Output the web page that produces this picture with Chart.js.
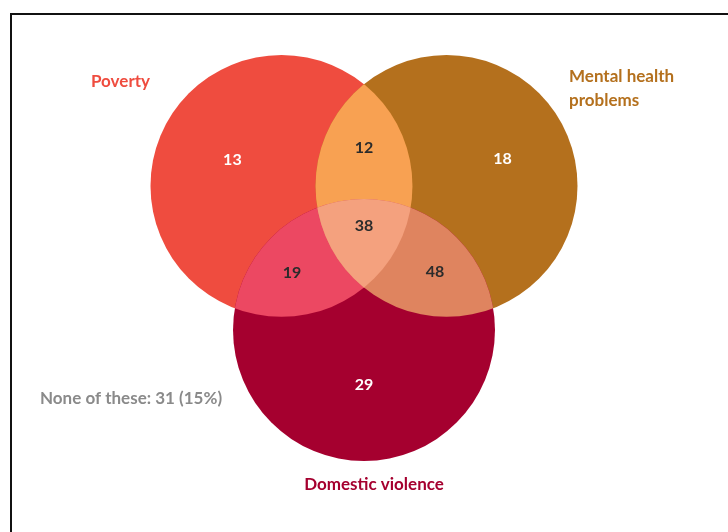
<!DOCTYPE html>
<html>
<head>
<meta charset="utf-8">
<script src="https://cdn.jsdelivr.net/npm/chart.js@4.4.0/dist/chart.umd.min.js"></script>
<style>
  html, body { margin: 0; padding: 0; background: #fff; overflow: hidden; }
  #wrap { position: relative; width: 728px; height: 532px; }
  #frame { position: absolute; left: 10px; top: 13px; width: 800px; height: 600px; border: 2px solid #111; }
  #venn { position: absolute; left: 0; top: 0; }
</style>
</head>
<body>
<div id="wrap">
  <div id="frame"></div>
  <canvas id="venn" width="728" height="532"></canvas>
</div>
<script>
// three sets, circle centres and radii in "radius units"
const setNames = ['Poverty', 'Mental health problems', 'Domestic violence'];
const setColors = ['#ef4c3f', '#b4701d', '#a5002f'];
const circleX = [-0.63, 0.63, 0];
const circleY = [1.1, 1.1, 0];
const circleR = [1, 1, 1];

// regions by membership mask: 1 = poverty, 2 = mental health, 4 = domestic violence
const regionMasks = [1, 2, 4, 3, 5, 6, 7];
const regionValues = [13, 18, 29, 12, 19, 48, 38];
const overlapColors = { 3: '#f8a152', 5: '#ec4862', 6: '#df845f', 7: '#f4a17e' };

const noneLabel = 'None of these: 31 (15%)';

const FONT = 'Lato, "Open Sans", sans-serif';

// small nudges (px) of the number labels away from the region centres
const labelNudge = { 1: [-10, -4], 2: [17, -5], 4: [0, 10], 3: [0, -7], 5: [-4, -1], 6: [3, -2], 7: [0, -8] };

// pixels per data unit, from the x scale
const unitPx = (chart) => {
    const s = chart.scales.x;
    return Math.abs(s.getPixelForValue(1) - s.getPixelForValue(0));
};

const vennPlugin = {
    id: 'venn',
    afterDatasetsDraw(chart) {
        const ctx = chart.ctx;
        const meta = chart.getDatasetMeta(0);
        const circles = meta.data.map(el => ({ x: el.x, y: el.y, r: el.options.radius }));
        const area = chart.chartArea;

        // overlaps: pairs first, then the middle
        [3, 5, 6, 7].forEach(mask => {
            ctx.save();
            circles.forEach((c, i) => {
                if (mask & (1 << i)) {
                    ctx.beginPath();
                    ctx.arc(c.x, c.y, c.r, 0, Math.PI * 2);
                    ctx.clip();
                }
            });
            ctx.fillStyle = overlapColors[mask];
            ctx.fillRect(area.left, area.top, area.right - area.left, area.bottom - area.top);
            ctx.restore();
        });

        // centre of each region, found by sampling
        const sums = {};
        for (let y = area.top; y < area.bottom; y += 2) {
            for (let x = area.left; x < area.right; x += 2) {
                let m = 0;
                circles.forEach((c, i) => {
                    if ((x - c.x) ** 2 + (y - c.y) ** 2 <= c.r * c.r) m |= (1 << i);
                });
                if (!m) continue;
                if (!sums[m]) sums[m] = { x: 0, y: 0, n: 0 };
                sums[m].x += x; sums[m].y += y; sums[m].n++;
            }
        }

        ctx.save();
        ctx.textAlign = 'center';
        ctx.textBaseline = 'middle';
        ctx.font = 'bold 16px ' + FONT;
        regionMasks.forEach((mask, i) => {
            const s = sums[mask];
            if (!s) return;
            const single = mask === 1 || mask === 2 || mask === 4;
            const [dx, dy] = labelNudge[mask];
            ctx.fillStyle = single ? '#ffffff' : '#2b2b2b';
            ctx.fillText(String(regionValues[i]), s.x / s.n + dx, s.y / s.n + dy);
        });

        // set names
        ctx.font = 'bold 17px ' + FONT;
        ctx.textAlign = 'left';
        ctx.fillStyle = setColors[0];
        ctx.fillText(setNames[0], 91, 82);
        ctx.fillStyle = setColors[1];
        ctx.fillText('Mental health', 569, 77);
        ctx.fillText('problems', 569, 101);
        ctx.fillStyle = setColors[2];
        ctx.textAlign = 'center';
        ctx.fillText(setNames[2], 374, 485);
        ctx.textAlign = 'left';
        ctx.fillStyle = '#8a8a8a';
        ctx.fillText(noneLabel, 40, 399);
        ctx.restore();
    }
};

const chart = new Chart(document.getElementById('venn'), {
    type: 'bubble',
    data: {
        labels: setNames,
        datasets: [{
            data: circleX.map((x, i) => ({ x: x, y: circleY[i], r: 0 })),
            backgroundColor: setColors,
            borderWidth: 0,
            hoverRadius: 0
        }]
    },
    options: {
        responsive: false,
        animation: false,
        events: [],
        layout: { padding: 0, autoPadding: false },
        plugins: { legend: { display: false }, tooltip: { enabled: false } },
        scales: {
            x: { type: 'linear', display: false, min: -2.779, max: 2.779 },
            y: { type: 'linear', display: false, min: -1.542, max: 2.519 }
        }
    },
    plugins: [vennPlugin]
});

// bubble r is in pixels, so turn the radius units into pixels once the scale is laid out
const px = unitPx(chart);
chart.data.datasets[0].data.forEach((p, i) => { p.r = circleR[i] * px; });
chart.update();
</script>
</body>
</html>
